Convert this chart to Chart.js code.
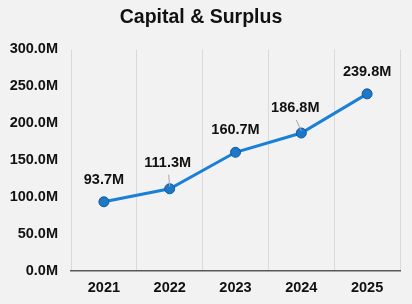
<!DOCTYPE html>
<html>
<head>
<meta charset="utf-8">
<script src="https://cdn.jsdelivr.net/npm/chart.js@4"></script>
<style>
  html, body { margin: 0; padding: 0; background: #f2f2f2; }
  #wrap { width: 412px; height: 304px; }
</style>
</head>
<body>
<div id="wrap"><canvas id="grafico"></canvas></div>
<script>
const years = ["2021", "2022", "2023", "2024", "2025"];
const surplus = [93.7, 111.3, 160.7, 186.8, 239.8];
const yTicks = [0, 50, 100, 150, 200, 250, 300];

const fuente = "Arial, 'Liberation Sans', sans-serif";

// etiquetas de valor sobre cada punto (algunas desplazadas con línea guía)
const valueLabels = {
    id: "valueLabels",
    afterDatasetsDraw(chart, args, opts) {
        const ctx = chart.ctx;
        const meta = chart.getDatasetMeta(0);
        ctx.save();
        ctx.font = "bold 14.5px " + fuente;
        ctx.textAlign = "center";
        ctx.textBaseline = "bottom";
        meta.data.forEach((pt, i) => {
            const shift = opts.shifts[i];
            const lx = pt.x + (shift ? shift[0] : 0);
            const ly = pt.y - (shift ? shift[1] : 15);
            if (shift) {
                ctx.strokeStyle = "#a6a6a6";
                ctx.lineWidth = 1;
                ctx.beginPath();
                ctx.moveTo(lx + 1, ly + 5);
                ctx.lineTo(pt.x, pt.y - 2);
                ctx.stroke();
            }
            ctx.fillStyle = "#111";
            ctx.fillText(surplus[i].toFixed(1) + "M", lx, ly);
        });
        ctx.restore();
    }
};

const ctx1 = document.getElementById("grafico").getContext("2d");
new Chart(ctx1, {
    type: "line",
    data: {
        labels: years,
        datasets: [{
            data: surplus,
            borderColor: "#1a7fd6",
            borderWidth: 3,
            pointRadius: 5,
            pointBackgroundColor: "#1f77c8",
            pointBorderColor: "#10589e",
            pointBorderWidth: 1,
            fill: false,
            tension: 0,
        }]
    },
    options: {
        responsive: true,
        maintainAspectRatio: false,
        animation: false,
        layout: { padding: { left: 2, right: 12, top: 0, bottom: 0 } },
        plugins: {
            legend: { display: false },
            tooltip: { enabled: false },
            title: {
                display: true,
                text: "Capital & Surplus",
                color: "#111",
                font: { family: fuente, size: 19.5, weight: "bold" },
                padding: { top: 6, bottom: 20 }
            },
            valueLabels: { shifts: { 1: [-2, 19], 3: [-6, 18] } }
        },
        scales: {
            x: {
                offset: true,
                grid: { display: true, offset: true, color: "#d9d9d9", drawTicks: false },
                border: { display: true, color: "#595959", width: 1.5 },
                afterFit: (axis) => { axis.height = 33; },
                ticks: {
                    color: "#111",
                    padding: 8,
                    font: { family: fuente, size: 14.5, weight: "bold" }
                }
            },
            y: {
                min: 0,
                max: 300,
                afterBuildTicks: (axis) => { axis.ticks = yTicks.map(v => ({ value: v })); },
                afterFit: (axis) => { axis.width = 69; },
                grid: { display: false, drawTicks: false },
                border: { display: false },
                ticks: {
                    color: "#111",
                    padding: 13,
                    font: { family: fuente, size: 14.5, weight: "bold" },
                    callback: (v) => v.toFixed(1) + "M"
                }
            }
        }
    },
    plugins: [valueLabels]
});
</script>
</body>
</html>
